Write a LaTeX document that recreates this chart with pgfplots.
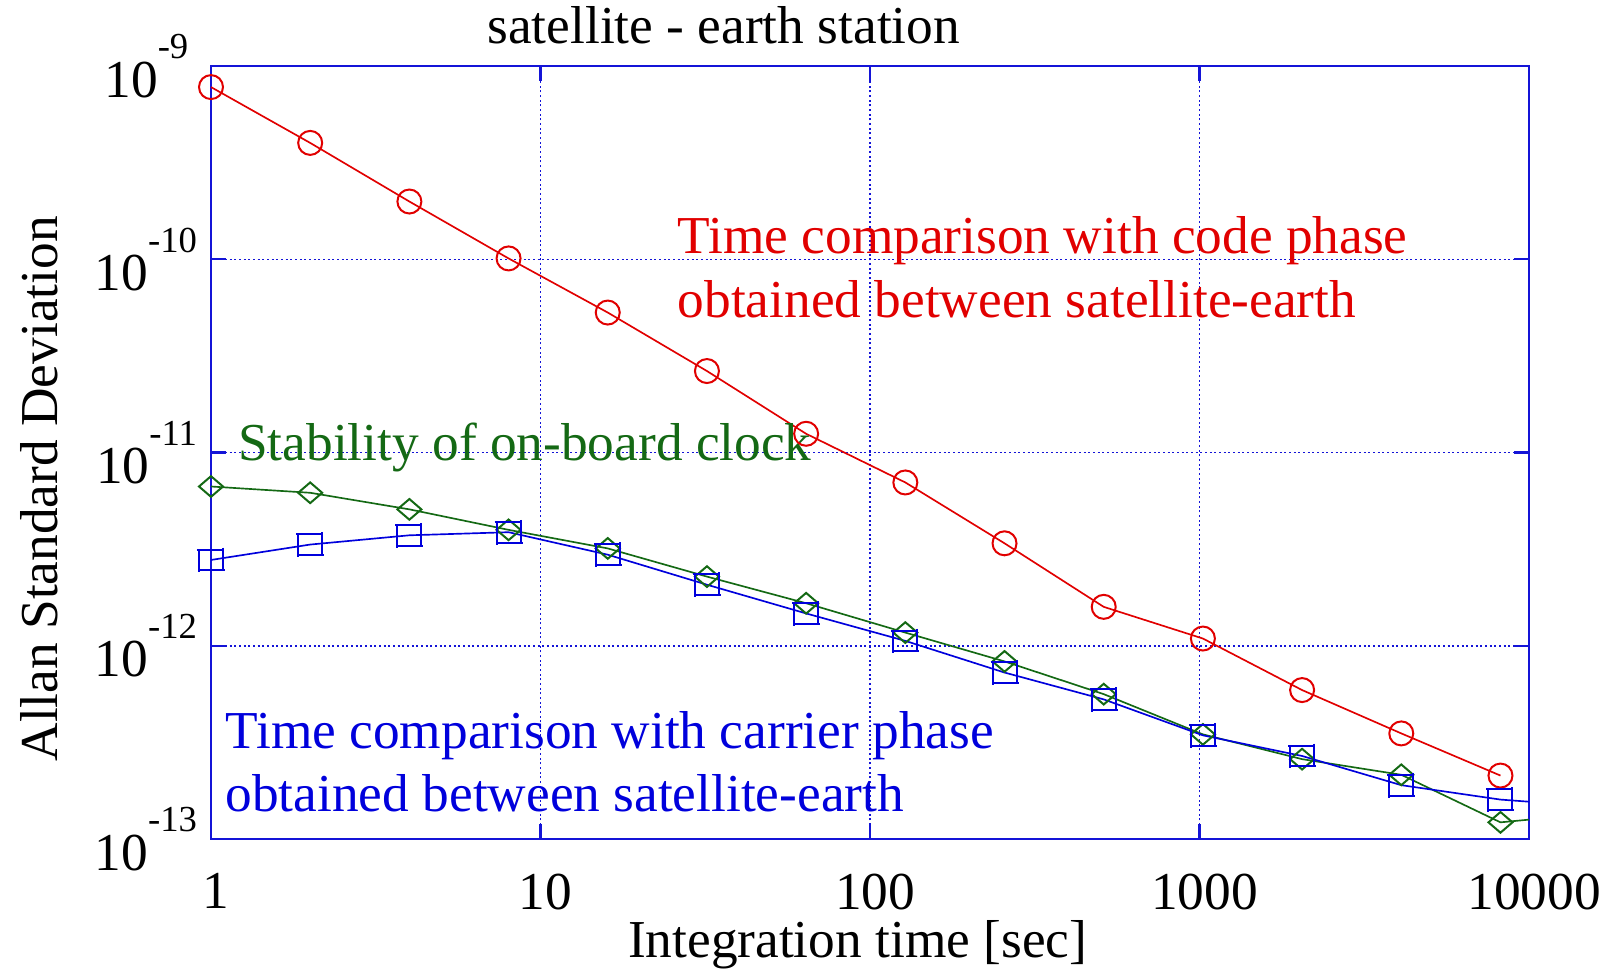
\documentclass[border=0pt]{standalone}
\usepackage{fontspec}
\setmainfont{Liberation Serif}
\usepackage{pgfplots}
\pgfplotsset{compat=1.18}

\definecolor{cred}{RGB}{225,0,0}
\definecolor{cgreen}{RGB}{20,105,20}
\definecolor{cblue}{RGB}{0,0,220}
\definecolor{caxis}{RGB}{20,20,215}

\newcommand{\tenexp}[1]{10\raisebox{11.5pt}{\fontsize{11}{11}\selectfont #1}}

\pgfdeclareplotmark{mydiam}{%
  \pgfpathmoveto{\pgfqpoint{3.6pt}{0pt}}%
  \pgfpathlineto{\pgfqpoint{0pt}{3.1pt}}%
  \pgfpathlineto{\pgfqpoint{-3.6pt}{0pt}}%
  \pgfpathlineto{\pgfqpoint{0pt}{-3.1pt}}%
  \pgfpathclose\pgfusepathqstroke}
\pgfdeclareplotmark{mybox}{%
  \pgfpathmoveto{\pgfqpoint{-4.2pt}{3.1pt}}\pgfpathlineto{\pgfqpoint{3.6pt}{3.1pt}}%
  \pgfpathmoveto{\pgfqpoint{-3.6pt}{-3.1pt}}\pgfpathlineto{\pgfqpoint{4.2pt}{-3.1pt}}%
  \pgfpathmoveto{\pgfqpoint{-3.6pt}{3.1pt}}\pgfpathlineto{\pgfqpoint{-3.6pt}{-3.7pt}}%
  \pgfpathmoveto{\pgfqpoint{3.6pt}{3.7pt}}\pgfpathlineto{\pgfqpoint{3.6pt}{-3.1pt}}%
  \pgfusepathqstroke}

\begin{document}
\begin{tikzpicture}[font=\fontsize{16}{19}\selectfont]
\begin{axis}[
  at={(0,0)}, anchor=south west,
  scale only axis, width=395.4pt, height=231.9pt,
  xmode=log, ymode=log,
  xmin=1, xmax=10000, ymin=1e-13, ymax=1e-9,
  xtick={1,10,100,1000,10000},
  xticklabels={1,10,100,1000,10000},
  ytick={1e-13,1e-12,1e-11,1e-10,1e-9},
  yticklabels={\tenexp{-13},\tenexp{-12},\tenexp{-11},\tenexp{-10},\tenexp{-9\hspace{2.6pt}}},
  minor tick style={draw=none},
  axis line style={caxis, line width=0.7pt},
  major tick style={caxis, line width=0.7pt},
  major tick length=4.5pt,
  tick align=inside,
  xmajorgrids, ymajorgrids,
  major grid style={caxis, line width=0.45pt, dash pattern=on 0.6pt off 0.8pt},
  xticklabel style={anchor=north, inner sep=0pt, yshift=-10.2pt, xshift=1.5pt, font=\fontsize{16}{19}\selectfont},
  yticklabel style={anchor=east, inner sep=0pt, xshift=-4pt, font=\fontsize{16}{19}\selectfont},
  xlabel={Integration time [sec]},
  ylabel={Allan Standard Deviation},
  xlabel style={at={(axis description cs:0.4906,-0.1537)}, anchor=base, inner sep=0pt, font=\fontsize{16}{19}\selectfont},
  ylabel style={at={(axis description cs:-0.1168,0.453)}, anchor=base, inner sep=0pt, font=\fontsize{16}{19}\selectfont},
  clip=false,
]
\addplot[cred, line width=0.5pt, mark=o, mark size=3.6pt, mark options={solid, line width=0.6pt}] coordinates {
(1,7.78e-10)(2,4.0e-10)(4,1.99e-10)(8,1.01e-10)(16,5.3e-11)(32,2.64e-11)(64,1.25e-11)(128,7.0e-12)(256,3.39e-12)(512,1.59e-12)(1024,1.09e-12)(2048,5.9e-13)(4096,3.52e-13)(8192,2.13e-13)};
\addplot[cgreen, line width=0.5pt, mark=mydiam, mark options={solid, line width=0.6pt}, mark indices={1,...,14}] coordinates {
(1,6.67e-12)(2,6.19e-12)(4,5.08e-12)(8,3.98e-12)(16,3.19e-12)(32,2.28e-12)(64,1.66e-12)(128,1.17e-12)(256,8.3e-13)(512,5.62e-13)(1024,3.48e-13)(2048,2.59e-13)(4096,2.15e-13)(8192,1.22e-13)(10000,1.26e-13)};
\addplot[cblue, line width=0.5pt, mark=mybox, mark options={solid, line width=0.6pt}, mark indices={1,...,14}] coordinates {
(1,2.78e-12)(2,3.34e-12)(4,3.73e-12)(8,3.87e-12)(16,2.96e-12)(32,2.07e-12)(64,1.47e-12)(128,1.06e-12)(256,7.27e-13)(512,5.28e-13)(1024,3.44e-13)(2048,2.69e-13)(4096,1.9e-13)(8192,1.6e-13)(10000,1.56e-13)};

\node[anchor=base, inner sep=0pt] at (axis description cs:0.389,1.029) {satellite - earth station};
\node[anchor=base west, inner sep=0pt, text=cred] at (axis description cs:0.3536,0.757) {Time comparison with code phase};
\node[anchor=base west, inner sep=0pt, text=cred] at (axis description cs:0.3536,0.675) {obtained between satellite-earth};
\node[anchor=base west, inner sep=0pt, text=cgreen] at (axis description cs:0.0202,0.490) {Stability of on-board clock};
\node[anchor=base west, inner sep=0pt, text=cblue] at (axis description cs:0.0106,0.1177) {Time comparison with carrier phase};
\node[anchor=base west, inner sep=0pt, text=cblue] at (axis description cs:0.0106,0.0362) {obtained between satellite-earth};
\end{axis}
\pgfresetboundingbox
\path[use as bounding box] (-63.3pt,-39.3pt) rectangle (422.7pt,251.7pt);
\end{tikzpicture}
\end{document}
